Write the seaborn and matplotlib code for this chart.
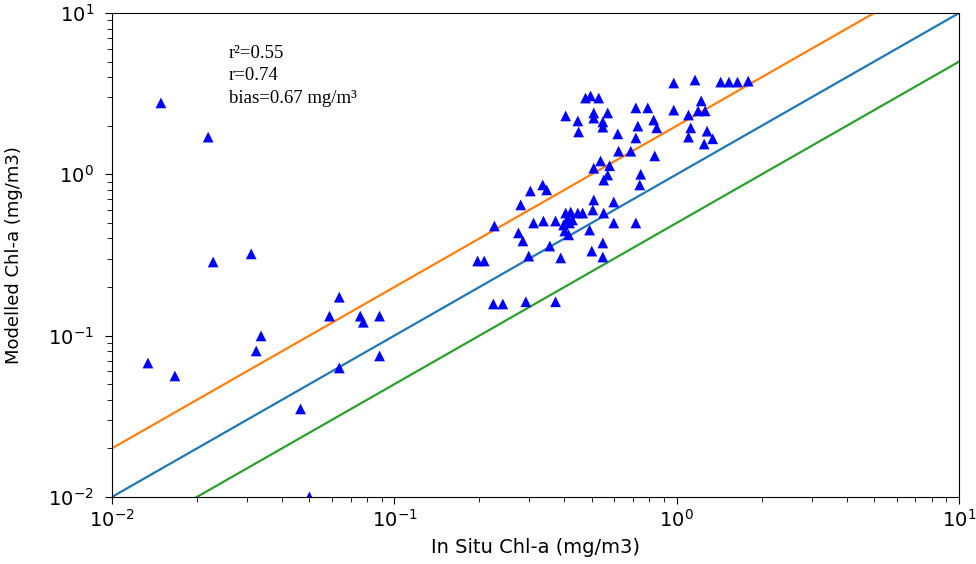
import numpy as np
import pandas as pd
import matplotlib
matplotlib.use("Agg")
import matplotlib.pyplot as plt
import seaborn as sns

# in situ vs modelled chl-a (mg/m3)
in_situ = [
    0.0134, 0.0149, 0.0167, 0.0219, 0.0228, 0.0311, 0.0324, 0.0337, 0.0465, 0.050,
    0.0589, 0.0638, 0.0638, 0.0757, 0.0776, 0.0886, 0.0886,
    0.197, 0.208, 0.224, 0.242, 0.226, 0.275, 0.285, 0.280, 0.292, 0.299,
    0.303, 0.311, 0.335, 0.346, 0.337, 0.355, 0.372, 0.372, 0.388, 0.404,
    0.421, 0.446, 0.464, 0.410, 0.427, 0.397, 0.417, 0.401, 0.414, 0.491,
    0.500, 0.508, 0.504, 0.551, 0.598, 0.598, 0.547, 0.547, 0.716, 0.739, 0.745,
    0.475, 0.495, 0.529, 0.404, 0.446, 0.449, 0.508, 0.569, 0.508, 0.547,
    0.547, 0.716, 0.789, 0.975, 1.16, 1.43, 1.53, 1.64, 1.79, 0.975,
    1.22, 1.19, 1.26, 1.10, 0.728, 0.828, 0.849, 0.618, 0.716, 1.12,
    1.10, 1.28, 1.34, 1.25, 0.622, 0.687, 0.835, 0.537, 0.508, 0.578,
    0.569, 0.551,
]
modelled = [
    0.0676, 2.77, 0.0562, 1.70, 0.286, 0.321, 0.0803, 0.0995, 0.0351, 0.010,
    0.132, 0.173, 0.0630, 0.132, 0.121, 0.132, 0.0748,
    0.290, 0.290, 0.157, 0.157, 0.478, 0.433, 0.386, 0.646, 0.162, 0.311,
    0.788, 0.499, 0.859, 0.800, 0.513, 0.359, 0.513, 0.162, 0.303, 0.575,
    0.583, 0.575, 0.575, 0.528, 0.521, 0.485, 0.499, 0.445, 0.421, 0.451,
    0.334, 0.693, 0.601, 0.575, 0.673, 0.499, 0.375, 0.307, 0.499, 0.859, 1.00,
    2.97, 3.06, 2.97, 2.30, 2.14, 1.83, 2.40, 2.40, 2.23, 2.11,
    1.96, 2.58, 2.58, 3.68, 3.84, 3.73, 3.73, 3.73, 3.78, 2.50,
    2.85, 2.47, 2.47, 2.33, 1.99, 2.17, 1.94, 1.78, 1.68, 1.94,
    1.70, 1.85, 1.66, 1.54, 1.39, 1.39, 1.30, 1.21, 1.09, 1.13,
    0.99, 0.92,
]

# reference lines y = k*x
ratios = [1.0, 2.0, 0.5]
line_colors = ["tab:blue", "tab:orange", "tab:green"]
axis_range = [0.01, 10]

stats = ["r\u00b2=0.55", "r=0.74", "bias=0.67 mg/m\u00b3"]

df = pd.DataFrame({"in_situ": in_situ, "modelled": modelled})

fig = plt.figure(figsize=(9.76, 5.64), dpi=100)
ax = fig.add_axes([0.1148, 0.119, 0.868, 0.858])

lx = np.array(axis_range)
for k, c in zip(ratios, line_colors):
    sns.lineplot(x=lx, y=k * lx, color=c, linewidth=1.6, ax=ax, zorder=2)

sns.scatterplot(data=df, x="in_situ", y="modelled", marker="^", color="blue",
                s=60, edgecolor="none", ax=ax, zorder=3)

ax.set_xscale("log")
ax.set_yscale("log")
ax.set_xlim(axis_range)
ax.set_ylim(axis_range)

ax.set_xlabel("In Situ Chl-a (mg/m3)", fontsize=14, labelpad=5)
ax.set_ylabel("Modelled Chl-a (mg/m3)", fontsize=13, labelpad=18)
ax.tick_params(axis="both", which="major", labelsize=14, length=5)
ax.tick_params(axis="y", which="major", pad=8)
ax.tick_params(axis="both", which="minor", length=3.5)

for i, s in enumerate(stats):
    ax.text(0.138, 0.917 - i * 0.047, s, transform=ax.transAxes,
            ha="left", va="center", fontsize=13.5, family="Liberation Serif")

fig.savefig("out.png", dpi=100)
